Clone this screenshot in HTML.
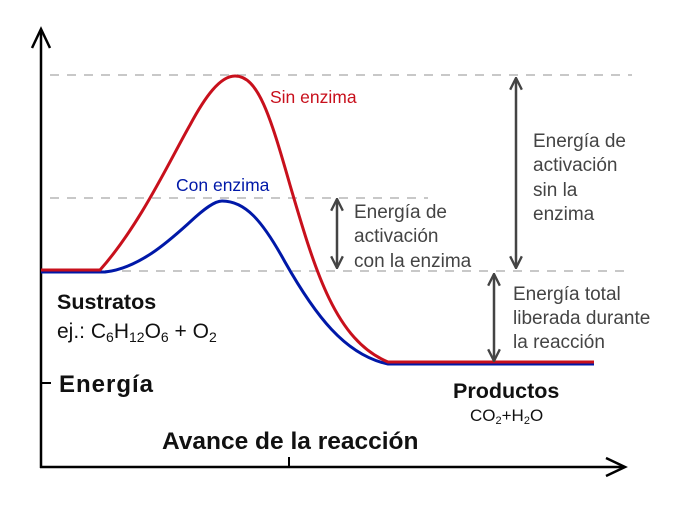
<!DOCTYPE html>
<html><head><meta charset="utf-8"><style>
body{margin:0;background:#fff}
svg{display:block}
text{font-family:"Liberation Sans",sans-serif}
</style></head><body>
<svg width="677" height="512" viewBox="0 0 677 512" xmlns="http://www.w3.org/2000/svg">
<defs>
<marker id="ah" viewBox="0 0 12 12" refX="11" refY="6" markerWidth="14" markerHeight="14" orient="auto-start-reverse" markerUnits="userSpaceOnUse">
<path d="M1,1 L11,6 L1,11" fill="none" stroke="#444" stroke-width="2"/>
</marker>
</defs>
<g stroke="#c8c8c8" stroke-width="2" stroke-dasharray="9,8" fill="none">
<line x1="50" y1="75" x2="632" y2="75"/>
<line x1="50" y1="198" x2="428" y2="198"/>
<line x1="105" y1="271" x2="632" y2="271"/>
</g>
<g stroke="#000" stroke-width="2.5" fill="none">
<line x1="41" y1="30" x2="41" y2="468"/>
<path d="M32,48 L41,29 L50,48"/>
<line x1="40" y1="467" x2="625" y2="467"/>
<path d="M606,458 L625,467 L606,476"/>
<line x1="289" y1="457" x2="289" y2="467" stroke-width="2"/>
<line x1="41" y1="383" x2="51" y2="383" stroke-width="2"/>
</g>
<path d="M41,272 L105,272 C140,268 170,240 190,222 C205,208 215,201 222,201 C245,201 262,220 285,262 C315,315 345,355 388,364 L594,364" fill="none" stroke="#0018a8" stroke-width="3"/>
<path d="M41,270 L100,270 C140,225 170,160 190,125 C205,97 220,76 235,76 C258,76 270,115 290,185 C315,270 335,340 388,362 L594,362" fill="none" stroke="#c8101c" stroke-width="3"/>
<g stroke="#444" stroke-width="2.5" fill="none">
<line x1="516" y1="78" x2="516" y2="268" marker-start="url(#ah)" marker-end="url(#ah)"/>
<line x1="337" y1="199" x2="337" y2="268" marker-start="url(#ah)" marker-end="url(#ah)"/>
<line x1="494" y1="274" x2="494" y2="361" marker-start="url(#ah)" marker-end="url(#ah)"/>
</g>
<text x="270" y="103" font-size="17.5" fill="#c8101c">Sin enzima</text>
<text x="176" y="191" font-size="17.5" fill="#0018a8">Con enzima</text>
<g font-size="19" fill="#444">
<text x="354" y="218">Energía de</text>
<text x="354" y="242">activación</text>
<text x="354" y="267">con la enzima</text>
<text x="533" y="147">Energía de</text>
<text x="533" y="171">activación</text>
<text x="533" y="196">sin la</text>
<text x="533" y="220">enzima</text>
<text x="513" y="300">Energía total</text>
<text x="513" y="324">liberada durante</text>
<text x="513" y="348">la reacción</text>
</g>
<text x="57" y="309" font-size="21.5" font-weight="bold" fill="#111">Sustratos</text>
<text x="57" y="338" font-size="21" fill="#111">ej.:  C<tspan font-size="14" dy="4">6</tspan><tspan dy="-4">H</tspan><tspan font-size="14" dy="4">12</tspan><tspan dy="-4">O</tspan><tspan font-size="14" dy="4">6</tspan><tspan dy="-4"> + O</tspan><tspan font-size="14" dy="4">2</tspan></text>
<text x="59" y="392" font-size="24" font-weight="bold" fill="#111" letter-spacing="1">Energía</text>
<text x="453" y="398" font-size="21.5" font-weight="bold" fill="#111">Productos</text>
<text x="470" y="421" font-size="17" fill="#111">CO<tspan font-size="11" dy="3">2</tspan><tspan dy="-3">+H</tspan><tspan font-size="11" dy="3">2</tspan><tspan dy="-3">O</tspan></text>
<text x="162" y="449" font-size="24.5" font-weight="bold" fill="#111">Avance de la reacción</text>
</svg>
</body></html>
